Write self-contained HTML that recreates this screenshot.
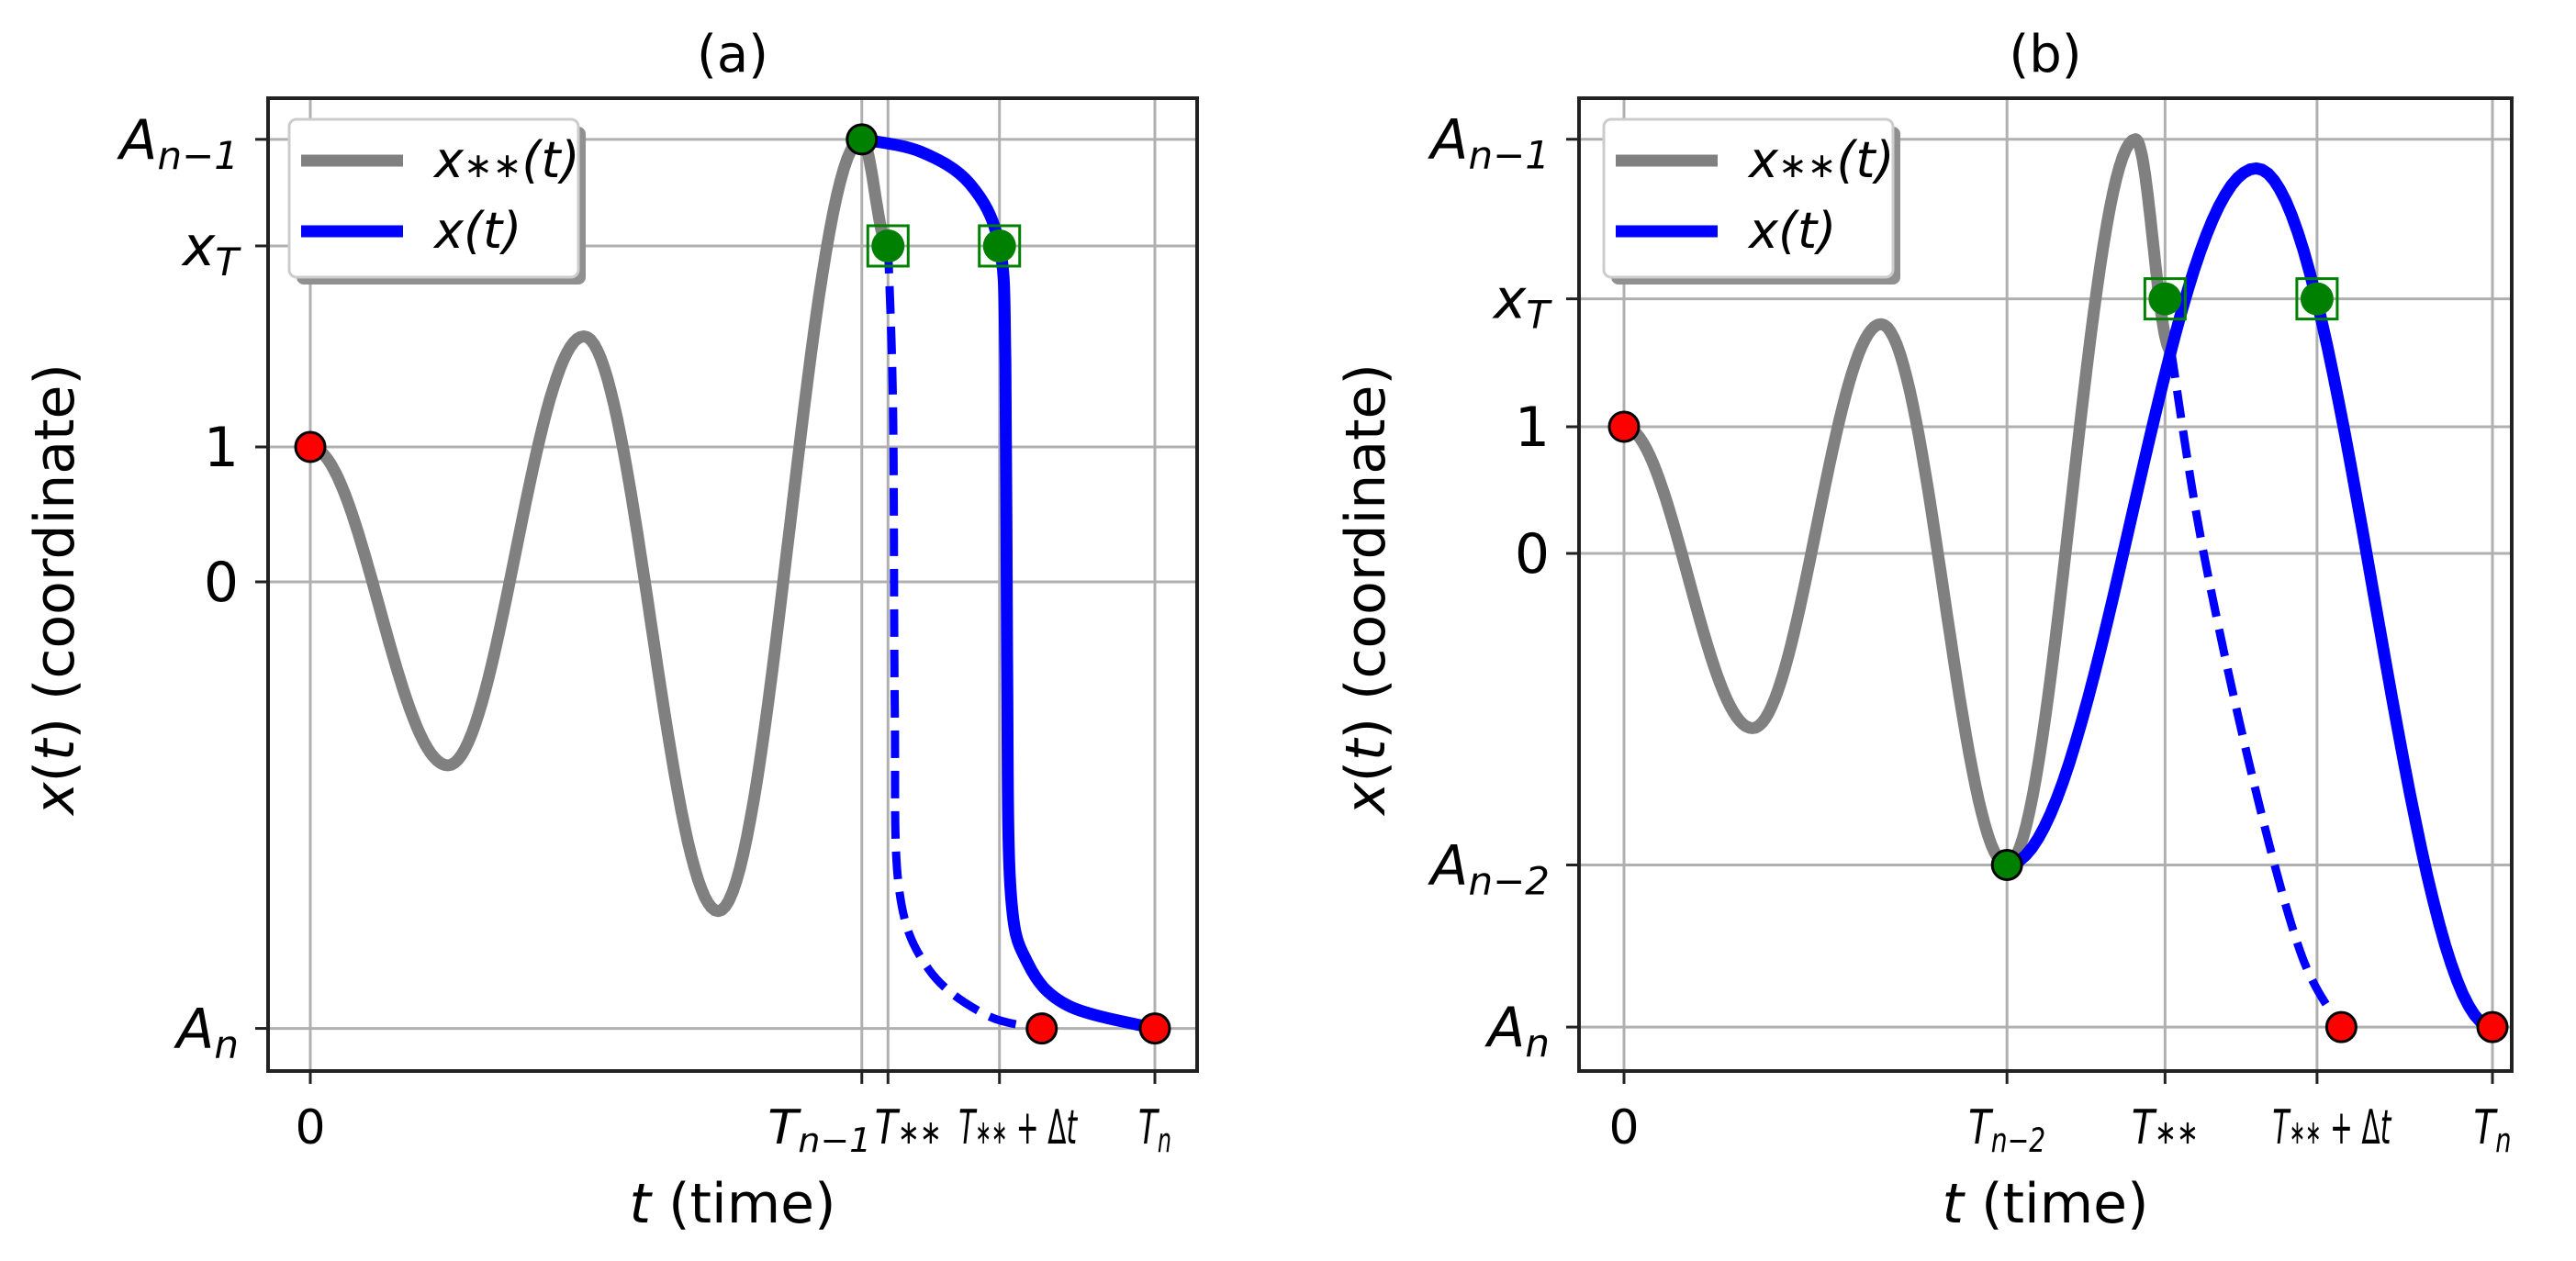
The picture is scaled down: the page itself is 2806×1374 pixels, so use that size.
<!DOCTYPE html>
<html><head><meta charset="utf-8"><style>
html,body{margin:0;padding:0;background:#fff;}
svg{display:block;}
text{font-family:"DejaVu Sans","Liberation Sans",sans-serif;fill:#000;}
.m{font-family:"DejaVu Sans","Liberation Sans",sans-serif;font-style:italic;}
</style></head><body>
<svg id="fig" width="2806" height="1374" viewBox="0 0 2806 1374" xmlns="http://www.w3.org/2000/svg"></svg>
<script>
// ---------- data: panel (a) ----------
const aXTickVals = [0, 6.53, 6.84, 8.16, 10];
const aXTickLabels = ['0', 'T<tspan font-size="70%" baseline-shift="-25%">n−1</tspan>', 'T<tspan font-size="70%">∗∗</tspan>', 'T<tspan font-size="70%">∗∗</tspan><tspan font-style="normal"> + Δ</tspan>t', 'T<tspan font-size="70%" baseline-shift="-25%">n</tspan>'];
const aYTickVals = [3.28, 2.49, 1, 0, -3.31];
const aYTickLabels = ['A<tspan font-size="70%" baseline-shift="-25%">n−1</tspan>', 'x<tspan font-size="70%" baseline-shift="-25%">T</tspan>', '1', '0', 'A<tspan font-size="70%" baseline-shift="-25%">n</tspan>'];
const aGrayT = [0, 1.63, 3.24, 4.83, 6.53, 6.84];
const aGrayY = [1, -1.36, 1.82, -2.44, 3.28, 2.49];
const aBlueT = [6.53, 7.22, 7.81, 8.16, 8.23, 8.25, 8.29, 8.49, 8.97, 10];
const aBlueY = [3.28, 3.19, 2.95, 2.49, 1.63, -0.56, -2.27, -2.82, -3.14, -3.31];
const aDashT = [6.84, 6.9, 6.92, 6.97, 7.32, 8.0, 8.66];
const aDashY = [2.49, 1.27, -0.93, -2.27, -2.87, -3.21, -3.31];
const aRedT = [0, 8.66, 10];
const aRedY = [1, -3.31, -3.31];
const aGreenT = [6.53];
const aGreenY = [3.28];
const aSqT = [6.84, 8.16];
const aSqY = [2.49, 2.49];

// ---------- data: panel (b) ----------
const bXTickVals = [0, 4.41, 6.23, 7.98, 10];
const bXTickLabels = ['0', 'T<tspan font-size="70%" baseline-shift="-25%">n−2</tspan>', 'T<tspan font-size="70%">∗∗</tspan>', 'T<tspan font-size="70%">∗∗</tspan><tspan font-style="normal"> + Δ</tspan>t', 'T<tspan font-size="70%" baseline-shift="-25%">n</tspan>'];
const bYTickVals = [3.27, 2.01, 1, 0, -2.46, -3.74];
const bYTickLabels = ['A<tspan font-size="70%" baseline-shift="-25%">n−1</tspan>', 'x<tspan font-size="70%" baseline-shift="-25%">T</tspan>', '1', '0', 'A<tspan font-size="70%" baseline-shift="-25%">n−2</tspan>', 'A<tspan font-size="70%" baseline-shift="-25%">n</tspan>'];
const bGrayT = [0, 1.48, 2.96, 4.41, 5.89, 6.3];
const bGrayY = [1, -1.38, 1.81, -2.46, 3.27, 1.6];
const bBlueT = [4.41, 7.28, 10];
const bBlueY = [-2.46, 3.04, -3.74];
const bDashT = [6.3, 6.65, 7.22, 7.79, 8.26];
const bDashY = [1.6, 0.09, -1.72, -3.15, -3.74];
const bRedT = [0, 8.26, 10];
const bRedY = [1, -3.74, -3.74];
const bGreenT = [4.41];
const bGreenY = [-2.46];
const bSqT = [6.23, 7.98];
const bSqY = [2.01, 2.01];

const NS = 'http://www.w3.org/2000/svg';
const fig = document.getElementById('fig');
function mk(tag, attrs, parent) {
  const e = document.createElementNS(NS, tag);
  for (const k in attrs) e.setAttribute(k, attrs[k]);
  (parent || fig).appendChild(e);
  return e;
}
function cosPath(T, Y, sx, sy) {
  let d = 'M' + sx(T[0]) + ',' + sy(Y[0]);
  for (let i = 0; i < T.length - 1; i++) {
    const n = 40;
    for (let k = 1; k <= n; k++) {
      const f = k / n, w = (1 - Math.cos(Math.PI * f)) / 2;
      d += ' L' + sx(T[i] + (T[i+1]-T[i]) * f).toFixed(1) + ',' + sy(Y[i] + (Y[i+1]-Y[i]) * w).toFixed(1);
    }
  }
  return d;
}
function crPath(T, Y, sx, sy) {
  const P = T.map((t, i) => [sx(t), sy(Y[i])]);
  let d = 'M' + P[0][0] + ',' + P[0][1];
  for (let i = 0; i < P.length - 1; i++) {
    const p0 = P[i-1] || P[i], p1 = P[i], p2 = P[i+1], p3 = P[i+2] || P[i+1];
    const c1 = [p1[0] + (p2[0]-p0[0]) / 6, p1[1] + (p2[1]-p0[1]) / 6];
    const c2 = [p2[0] - (p3[0]-p1[0]) / 6, p2[1] - (p3[1]-p1[1]) / 6];
    d += ' C' + c1.join(',') + ' ' + c2.join(',') + ' ' + p2.join(',');
  }
  return d;
}

function panel(cfg) {
  const g = mk('g', {});
  
  
  const L = cfg.L, R = cfg.R, TOP = 107, BOT = 1167;
  const sx = t => cfg.x0 + t * cfg.kx;
  const sy = y => cfg.y0 - y * cfg.ky;
  cfg.xt.forEach(v => {
    const l = mk('line', {x1: sx(v), x2: sx(v), y1: TOP, y2: BOT, stroke: '#b0b0b0', 'stroke-width': 3}, g);
    
    
  });
  cfg.yt.forEach(v => {
    const l = mk('line', {x1: L, x2: R, y1: sy(v), y2: sy(v), stroke: '#b0b0b0', 'stroke-width': 3}, g);
    
    
  });
  const cid = cfg.name + '-clip';
  const cp = mk('clipPath', {id: cid}, g);
  mk('rect', {x: L, y: TOP, width: R - L, height: BOT - TOP}, cp);
  const plot = mk('g', {'clip-path': 'url(#' + cid + ')'}, g);
  const gray = mk('path', {d: cosPath(cfg.grayT, cfg.grayY, sx, sy), fill: 'none', stroke: '#808080', 'stroke-width': 13, 'stroke-linejoin': 'round'}, plot);
  
  
  const dash = mk('path', {d: crPath(cfg.dashT, cfg.dashY, sx, sy), fill: 'none', stroke: '#0000ff', 'stroke-width': 9, 'stroke-dasharray': '30 14'}, plot);
  
  
  const bp = cfg.blueCos ? cosPath(cfg.blueT, cfg.blueY, sx, sy) : crPath(cfg.blueT, cfg.blueY, sx, sy);
  const blue = mk('path', {d: bp, fill: 'none', stroke: '#0000ff', 'stroke-width': 13, 'stroke-linejoin': 'round'}, plot);
  
  
  cfg.sqT.forEach((t, i) => {
    const s = mk('rect', {x: sx(t) - 22, y: sy(cfg.sqY[i]) - 22, width: 44, height: 44, fill: 'none', stroke: '#008000', 'stroke-width': 3}, plot);
    
    
    const c = mk('circle', {cx: sx(t), cy: sy(cfg.sqY[i]), r: 18, fill: '#008000'}, plot);
    
    
  });
  cfg.greenT.forEach((t, i) => {
    const c = mk('circle', {cx: sx(t), cy: sy(cfg.greenY[i]), r: 16, fill: '#008000', stroke: '#000', 'stroke-width': 3}, g);
    
    
  });
  cfg.redT.forEach((t, i) => {
    const c = mk('circle', {cx: sx(t), cy: sy(cfg.redY[i]), r: 16, fill: '#ff0000', stroke: '#000', 'stroke-width': 3}, g);
    
    
  });
  const fr = mk('rect', {x: L, y: TOP, width: R - L, height: BOT - TOP, fill: 'none', stroke: '#222', 'stroke-width': 4}, g);
  
  
  cfg.xt.forEach((v, i) => {
    mk('line', {x1: sx(v), x2: sx(v), y1: BOT, y2: BOT + 14, stroke: '#222', 'stroke-width': 3}, g);
    const at = {x: sx(v) + cfg.xdx[i], y: 1246, 'text-anchor': 'middle', 'font-size': 52, class: i ? 'm' : ''};
    if (i) { at.textLength = cfg.xw[i]; at.lengthAdjust = 'spacingAndGlyphs'; }
    const t = mk('text', at, g);
    t.innerHTML = cfg.xl[i];
    
    
  });
  cfg.yt.forEach((v, i) => {
    mk('line', {x1: L - 14, x2: L, y1: sy(v), y2: sy(v), stroke: '#222', 'stroke-width': 3}, g);
    const isNum = cfg.yl[i] === '0' || cfg.yl[i] === '1';
    const t = mk('text', {x: L - 32, y: sy(v) + 21, 'text-anchor': 'end', 'font-size': 60, class: isNum ? '' : 'm'}, g);
    t.innerHTML = cfg.yl[i];
    
    
  });
  const ti = mk('text', {x: (L + R) / 2, y: 78, 'text-anchor': 'middle', 'font-size': 56}, g);
  ti.textContent = cfg.title;
  
  
  const xl = mk('text', {x: (L + R) / 2, y: 1332, 'text-anchor': 'middle', 'font-size': 60}, g);
  xl.innerHTML = '<tspan class="m">t</tspan> (time)';
  
  
  const yl = mk('text', {x: 0, y: 0, 'text-anchor': 'middle', 'font-size': 60, transform: 'translate(' + cfg.ylx + ',' + ((TOP + BOT) / 2 + 5) + ') rotate(-90)'}, g);
  yl.innerHTML = '<tspan class="m">x</tspan>(<tspan class="m">t</tspan>) (coordinate)';
  
  
  const lg = mk('g', {}, g);
  
  
  const lx = cfg.lgx, ly = 130, lw = 315, lh = 172;
  mk('rect', {x: lx + 8, y: ly + 8, width: lw, height: lh, rx: 8, fill: '#909090'}, lg);
  mk('rect', {x: lx, y: ly, width: lw, height: lh, rx: 8, fill: '#fff', stroke: '#cccccc', 'stroke-width': 3}, lg);
  const e1 = mk('line', {x1: lx + 13, x2: lx + 124, y1: ly + 45, y2: ly + 45, stroke: '#808080', 'stroke-width': 13}, lg);
  
  
  const t1 = mk('text', {x: lx + 158, y: ly + 63, 'font-size': 54, class: 'm'}, lg);
  t1.innerHTML = 'x<tspan font-size="70%">∗∗</tspan>(t)';
  
  
  const e2 = mk('line', {x1: lx + 13, x2: lx + 124, y1: ly + 122, y2: ly + 122, stroke: '#0000ff', 'stroke-width': 13}, lg);
  
  
  const t2 = mk('text', {x: lx + 158, y: ly + 140, 'font-size': 54, class: 'm'}, lg);
  t2.innerHTML = 'x(t)';
  
  
}

panel({name: 'panel-a', title: '(a)', L: 292, R: 1304, x0: 338, kx: 92.0, y0: 634, ky: 147,
  xt: aXTickVals, xl: aXTickLabels, yt: aYTickVals, yl: aYTickLabels,
  xdx: [0, -46, 22, 20, 0], xw: [0, 113, 73, 129, 36],
  grayT: aGrayT, grayY: aGrayY, blueT: aBlueT, blueY: aBlueY, blueCos: false,
  dashT: aDashT, dashY: aDashY, redT: aRedT, redY: aRedY, greenT: aGreenT, greenY: aGreenY,
  sqT: aSqT, sqY: aSqY, ylx: 80, lgx: 315});
panel({name: 'panel-b', title: '(b)', L: 1720, R: 2736, x0: 1769, kx: 94.6, y0: 603, ky: 138,
  xt: bXTickVals, xl: bXTickLabels, yt: bYTickVals, yl: bYTickLabels,
  xdx: [0, 0, 0, 16, 0], xw: [0, 84, 73, 129, 41],
  grayT: bGrayT, grayY: bGrayY, blueT: bBlueT, blueY: bBlueY, blueCos: true,
  dashT: bDashT, dashY: bDashY, redT: bRedT, redY: bRedY, greenT: bGreenT, greenY: bGreenY,
  sqT: bSqT, sqY: bSqY, ylx: 1508, lgx: 1747});
</script>
</body></html>
